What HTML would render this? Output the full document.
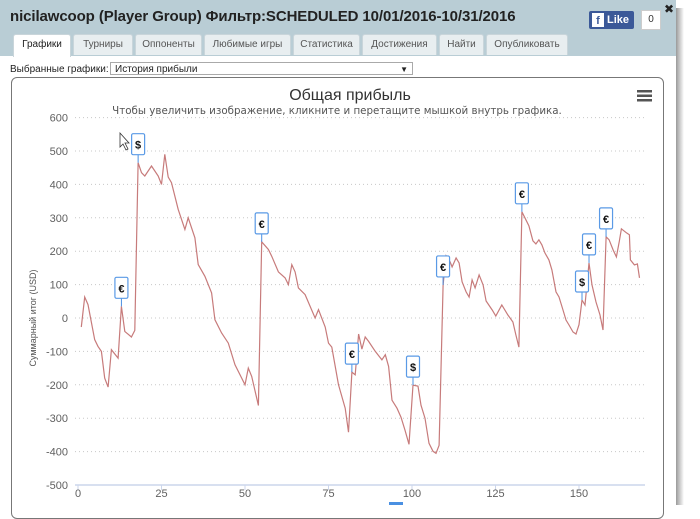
<!DOCTYPE html>
<html><head><meta charset="utf-8">
<style>
body{margin:0;width:700px;height:505px;overflow:hidden;background:#fff;font-family:"Liberation Sans","DejaVu Sans",sans-serif;position:relative}
.hdr{position:absolute;left:0;top:0;width:676px;height:56px;background:#b9cdd5}
.shadow{position:absolute;left:676px;top:8px;width:8px;height:497px;background:linear-gradient(to right,#9a9a9a,#fff)}
.title{position:absolute;left:10px;top:8px;font-size:15px;font-weight:bold;color:#222;letter-spacing:-0.1px}
.tab{position:absolute;top:34px;height:20px;background:#e8eef0;border:1px solid #c9d5da;border-bottom:none;border-radius:3px 3px 0 0;font-size:10px;color:#555;text-align:center;line-height:20px}
.tab.on{background:#fff;color:#222;height:22px}
.main{position:absolute;left:0;top:56px;width:676px;height:449px;background:#fff}
.frame{position:absolute;left:11px;top:77px;width:651px;height:440px;border:1px solid #777;border-radius:6px}
</style></head><body>
<div class="hdr"></div>
<div class="shadow"></div>
<div class="main"></div>
<div class="title">nicilawcoop (Player Group) Фильтр:SCHEDULED 10/01/2016-10/31/2016</div>
<div style="position:absolute;left:664px;top:2px;font-size:12px;font-weight:bold;color:#222">✖</div>
<div style="position:absolute;left:589px;top:11px;width:45px;height:18px;background:#3b5998;border-radius:2px;color:#fff;font-size:11px;font-weight:bold;line-height:18px"><span style="display:inline-block;width:12px;height:14px;background:#fff;color:#3b5998;margin:2px 3px 0 3px;line-height:16px;text-align:center;vertical-align:top">f</span>Like</div>
<div style="position:absolute;left:641px;top:10px;width:18px;height:18px;background:#fff;border:1px solid #ccc;font-size:10px;text-align:center;line-height:18px;color:#333">0</div>
<div class="tab on" style="left:13px;width:56px">Графики</div>
<div class="tab" style="left:73px;width:58px">Турниры</div>
<div class="tab" style="left:135px;width:65px">Оппоненты</div>
<div class="tab" style="left:204px;width:85px">Любимые игры</div>
<div class="tab" style="left:293px;width:65px">Статистика</div>
<div class="tab" style="left:362px;width:73px">Достижения</div>
<div class="tab" style="left:439px;width:43px">Найти</div>
<div class="tab" style="left:486px;width:80px">Опубликовать</div>
<div style="position:absolute;left:10px;top:64px;font-size:10px;color:#222">Выбранные графики:</div>
<div style="position:absolute;left:110px;top:62px;height:13px;border:1px solid #aaa;font-size:10px;line-height:13px;color:#222;padding-left:4px;box-sizing:border-box;width:303px">История прибыли<span style="position:absolute;right:4px;top:0;font-size:8px">▼</span></div>
<div class="frame"></div>
<svg id="chart" width="700" height="505" style="position:absolute;left:0;top:0"></svg>
<script>
const games=[1,2,3,5,6,7,8,9,10,12,13,14,16,17,18,19,20,22,24,25,26,27,28,30,32,33,35,36,38,40,41,43,45,47,49,50,51,52,54,55,57,58,60,62,63,64,65,66,68,71,72,74,75,76,78,80,81,82,83,84,85,86,87,89,91,92,93,94,95.5,96.7,97.9,99.1,100.3,101.8,102.7,103.9,105.1,106.3,107.2,108.1,109.3,110.2,111.4,112,113.2,114.1,115,116.2,117.1,118,118.9,120.1,121.3,122.2,124,125.1,126.9,128.7,130.2,131.1,132,132.9,134.1,135,136.2,137.1,138,138.9,139.8,141,141.9,143.1,144,145.2,146.1,147,148.2,149.1,150,150.9,151.8,153,153.9,155.1,156.3,157.2,158.1,159,160.2,161.2,162.1,162.7,164.2,165.1,165.4,166.6,167.5,168.1];
const profit=[-27,63,40,-65,-85,-100,-180,-207,-95,-120,35,-40,-57,-37,465,435,425,455,425,400,490,422,405,325,265,300,240,160,125,75,-5,-45,-75,-140,-180,-200,-150,-175,-262,228,205,185,138,120,100,160,138,90,70,0,25,-27,-75,-87,-200,-270,-342,-162,-170,-48,-93,-57,-70,-100,-125,-110,-145,-246,-270,-297,-336,-378,-201,-204,-261,-300,-375,-399,-405,-381,99,186,168,153,180,165,108,78,63,114,90,129,99,51,24,6,39,9,-12,-51,-87,318,294,276,231,222,234,219,195,174,144,78,63,24,-6,-21,-42,-48,-20,54,39,165,99,48,9,-36,243,234,204,183,231,267,255,249,174,159,162,120];
const flagX=[13,18,55,82,100.3,109.3,132.9,150.9,153,158.1];
const flagY=[35,465,228,-162,-201,99,318,54,165,243];
const flagSym=['€','$','€','€','$','€','€','$','€','€'];
const yTicks=[600,500,400,300,200,100,0,-100,-200,-300,-400,-500];
const xTicks=[0,25,50,75,100,125,150];
const svg=document.getElementById('chart');const NS='http://www.w3.org/2000/svg';
const X=v=>78+v*3.34, Y=v=>318-v*0.334;
function mk(t,a,txt){const e=document.createElementNS(NS,t);for(const k in a)e.setAttribute(k,a[k]);if(txt!=null)e.textContent=txt;svg.appendChild(e);return e;}
let e;
e=mk('text',{x:350,y:100,'text-anchor':'middle','font-size':16,fill:'#333'},'Общая прибыль');


e=mk('text',{x:337,y:114,'text-anchor':'middle','font-size':10.3,fill:'#555','font-family':'DejaVu Sans, sans-serif'},'Чтобы увеличить изображение, кликните и перетащите мышкой внутрь графика.');


e=mk('g',{});


for(let i=0;i<3;i++){const r=mk('rect',{x:637,y:90+i*4.5,width:15,height:2.5,fill:'#555'});e.appendChild(r);}
yTicks.forEach(t=>{
 if(t>-500){e=mk('line',{x1:75,x2:645,y1:Y(t),y2:Y(t),stroke:'#c8c8c8','stroke-dasharray':'1,3'});
 
 }
 e=mk('text',{x:68,y:Y(t)+4,'text-anchor':'end','font-size':11,fill:'#606060'},t);
 
 
});
e=mk('line',{x1:75,x2:645,y1:Y(-500),y2:Y(-500),stroke:'#ccd6eb','stroke-width':1.5});


xTicks.forEach(t=>{
 e=mk('line',{x1:X(t),x2:X(t),y1:Y(-500),y2:Y(-500)+5,stroke:'#ccd6eb'});
 
 
 e=mk('text',{x:X(t),y:497,'text-anchor':'middle','font-size':11,fill:'#606060'},t);
 
 
});
e=mk('text',{x:0,y:0,'font-size':9,fill:'#555','text-anchor':'middle',transform:'translate(36,318) rotate(-90)'},'Суммарный итог (USD)');


let d=games.map((g,i)=>(i?'L':'M')+X(g).toFixed(1)+','+Y(profit[i]).toFixed(1)).join(' ');
e=mk('path',{d:d,fill:'none',stroke:'#c77b7b','stroke-width':1.2});


flagX.forEach((fx,i)=>{
 const px=X(fx),py=Y(flagY[i]);
 const g=mk('g',{});
 
 
 g.appendChild(mk('line',{x1:px,x2:px,y1:py,y2:py-8,stroke:'#4a90e2'}));
 g.appendChild(mk('rect',{x:px-6.5,y:py-29,width:13,height:21,fill:'#fff',stroke:'#5a9ae6','stroke-width':1.2,rx:1.5}));
 g.appendChild(mk('text',{x:px,y:py-14,'text-anchor':'middle','font-size':11,'font-weight':'bold',fill:'#111'},flagSym[i]));
});
e=mk('rect',{x:389,y:502,width:14,height:3,fill:'#4a90e2'});


e=mk('path',{d:'M120,133 L120,147 L123,144 L126,150 L128,149 L125,143 L129,143 Z',fill:'#fff',stroke:'#333','stroke-width':0.8});


</script>
</body></html>
